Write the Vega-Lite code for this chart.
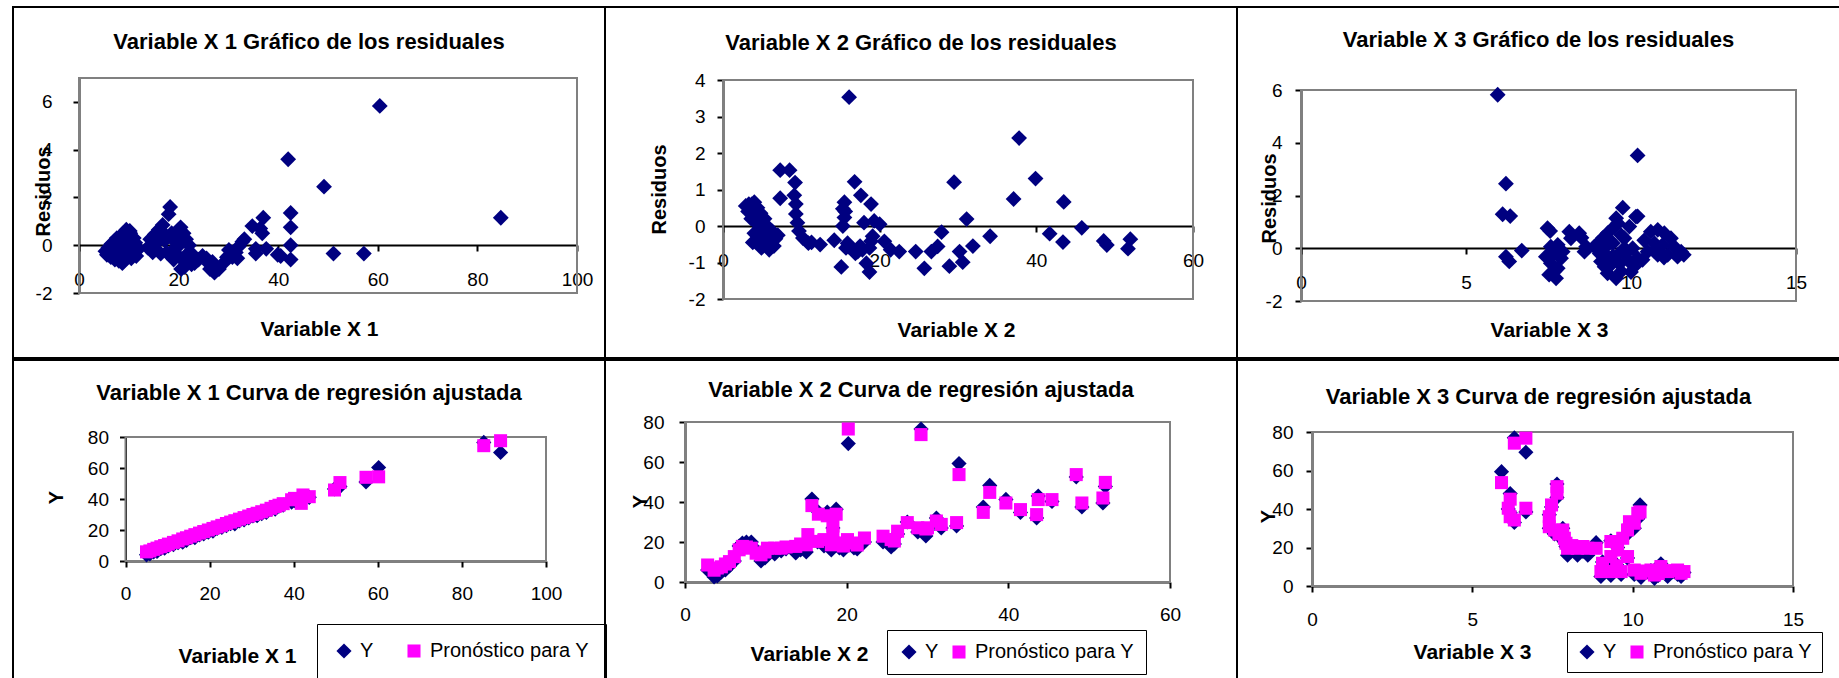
{
"$schema": "https://vega.github.io/schema/vega-lite/v6.json",
"background": "white",
"padding": {"left": 12, "top": 6, "right": 0, "bottom": 0},
"spacing": 0,
"config": {
 "view": {"stroke": "black", "strokeWidth": 2},
 "font": "Liberation Sans",
 "axis": {"grid": false, "domainColor": "black", "domainWidth": 2, "tickColor": "black", "tickWidth": 2, "tickSize": 6, "labelFont": "Liberation Sans", "labelFontSize": 19, "labelColor": "black", "titleFont": "Liberation Sans", "titleFontSize": 21, "titleFontWeight": "bold", "titleColor": "black", "labelFlush": false, "labelOverlap": false, "zindex": 1, "titleAlign": "center", "titleBaseline": "alphabetic", "labelExpr": "'' + datum.value"},
 "axisY": {"titleFontSize": 20, "titleAngle": 270},
 "title": {"font": "Liberation Sans", "fontSize": 22, "fontWeight": "bold", "color": "black", "anchor": "middle", "frame": "group"},
 "legend": {"direction": "horizontal", "orient": "none", "title": null, "strokeColor": "black", "fillColor": "white", "labelFont": "Liberation Sans", "labelFontSize": 20, "labelColor": "black", "labelOffset": 6, "symbolStrokeWidth": 0, "labelLimit": 400}
},
"resolve": {"scale": {"color": "independent", "shape": "independent", "size": "independent"}, "legend": {"color": "independent", "shape": "independent", "size": "independent"}},
"vconcat": [
{"hconcat": [
 {"width": 592, "height": 351,
  "title": {"text": "Variable X 1 Gráfico de los residuales", "offset": -47},
  "layer": [
   {"data": {"values": [{}]}, "mark": {"type": "rect", "filled": false, "stroke": "#808080", "strokeWidth": 2},
    "encoding": {"x": {"datum": 0, "type": "quantitative"}, "x2": {"datum": 100}, "y": {"datum": -2, "type": "quantitative"}, "y2": {"datum": 7}}},
   {"data": {"values": [
{"x":5.3,"r":-0.25},{"x":5.6,"r":-0.4},{"x":5.9,"r":-0.1},{"x":6.2,"r":-0.3},{"x":6.5,"r":0.05},{"x":6.8,"r":-0.2},{"x":7.1,"r":-0.45},{"x":7.4,"r":0.15},{"x":7.7,"r":-0.3},{"x":8.0,"r":-0.65},{"x":8.2,"r":0.35},{"x":8.4,"r":-0.1},{"x":8.7,"r":-0.75},{"x":8.9,"r":0.5},{"x":9.1,"r":0.1},{"x":9.3,"r":-0.45},{"x":9.5,"r":0.65},{"x":9.8,"r":0.3},{"x":10.0,"r":-0.2},{"x":10.3,"r":0.5},{"x":10.5,"r":-0.55},{"x":10.8,"r":0.05},{"x":11.1,"r":-0.3},{"x":11.5,"r":-0.45},{"x":12.0,"r":-0.15},{"x":9.0,"r":-0.65},{"x":7.6,"r":0.3},{"x":10.2,"r":0.6},{"x":11.0,"r":0.3},{"x":6.0,"r":-0.15},
{"x":6.4,"r":-0.5},{"x":7.2,"r":-0.6},{"x":8.5,"r":0.2},{"x":9.6,"r":-0.1},{"x":10.6,"r":0.2},{"x":11.3,"r":0.1},
{"x":13.8,"r":-0.1},{"x":14.3,"r":0.25},{"x":14.8,"r":-0.3},{"x":15.2,"r":0.45},{"x":15.6,"r":0.1},{"x":16.0,"r":0.65},{"x":16.4,"r":-0.35},{"x":16.8,"r":0.85},{"x":17.2,"r":0.2},{"x":17.6,"r":-0.3},{"x":18.0,"r":1.3},{"x":18.3,"r":1.6},{"x":18.6,"r":0.5},{"x":18.9,"r":-0.2},{"x":19.3,"r":0.15},{"x":19.7,"r":-0.4},{"x":20.1,"r":0.0},{"x":20.4,"r":0.75},{"x":20.7,"r":-0.6},{"x":21.0,"r":0.5},{"x":21.2,"r":-0.9},{"x":21.5,"r":0.25},{"x":21.8,"r":-0.7},{"x":22.1,"r":0.0},{"x":22.4,"r":-0.3},{"x":22.8,"r":-0.5},{"x":23.2,"r":-0.75},{"x":20.5,"r":-1.0},{"x":19.5,"r":0.4},{"x":17.0,"r":0.5},
{"x":15.0,"r":-0.1},{"x":16.2,"r":0.3},{"x":19.0,"r":-0.6},{"x":20.0,"r":0.5},{"x":21.6,"r":-0.4},{"x":22.6,"r":-0.8},
{"x":24.0,"r":-0.6},{"x":24.8,"r":-0.45},{"x":25.6,"r":-0.55},{"x":26.2,"r":-0.8},{"x":26.8,"r":-0.7},{"x":27.2,"r":-1.15},{"x":26.3,"r":-1.0},{"x":28.1,"r":-1.0},{"x":29.0,"r":-0.75},{"x":29.7,"r":-0.5},{"x":30.1,"r":-0.2},{"x":30.8,"r":-0.5},{"x":31.5,"r":-0.3},{"x":32.1,"r":-0.05},{"x":32.8,"r":0.15},{"x":33.2,"r":0.25},{"x":31.8,"r":-0.55},
{"x":34.8,"r":0.8},{"x":36.4,"r":0.7},{"x":37.0,"r":1.15},{"x":36.8,"r":0.5},{"x":35.5,"r":-0.35},{"x":35.5,"r":-0.15},{"x":37.6,"r":-0.15},{"x":39.9,"r":-0.4},{"x":40.5,"r":-0.45},
{"x":42.5,"r":1.35},{"x":42.5,"r":0.75},{"x":42.5,"r":0.0},{"x":42.5,"r":-0.6},{"x":51.1,"r":-0.35},{"x":57.2,"r":-0.35},{"x":42.0,"r":3.6},{"x":49.2,"r":2.45},{"x":60.4,"r":5.83},{"x":84.7,"r":1.15}
   ]},
    "mark": {"type": "point", "shape": "diamond", "filled": true, "size": 250, "color": "#000080", "opacity": 1, "strokeWidth": 0},
    "encoding": {
     "x": {"field": "x", "type": "quantitative", "scale": {"domain": [0, 100], "range": [66, 564], "nice": false, "zero": false},
       "axis": {"title": "Variable X 1", "values": [0,20,40,60,80,100], "offset": -113, "labelPadding": 28, "labelBaseline": "middle", "titleX": 306, "titleY": 90}},
     "y": {"field": "r", "type": "quantitative", "scale": {"domain": [-2, 7], "range": [286, 71], "nice": false, "zero": false},
       "axis": {"title": "Residuos", "values": [-2,0,2,4,6], "offset": -66, "labelPadding": 21, "titleX": -30, "titleY": 184}}
    }}
  ]},
 {"width": 632, "height": 351,
  "title": {"text": "Variable X 2 Gráfico de los residuales", "offset": -48},
  "layer": [
   {"data": {"values": [{}]}, "mark": {"type": "rect", "filled": false, "stroke": "#808080", "strokeWidth": 2},
    "encoding": {"x": {"datum": 0, "type": "quantitative"}, "x2": {"datum": 60}, "y": {"datum": -2, "type": "quantitative"}, "y2": {"datum": 4}}},
   {"data": {"values": [
{"x":2.9,"r":0.55},{"x":3.3,"r":0.6},{"x":3.7,"r":0.6},{"x":4.0,"r":0.65},{"x":4.4,"r":0.5},{"x":4.8,"r":0.35},{"x":4.2,"r":0.1},{"x":4.0,"r":-0.2},{"x":4.4,"r":-0.35},{"x":5.1,"r":-0.15},{"x":5.6,"r":0.0},{"x":6.0,"r":-0.3},{"x":5.9,"r":-0.65},{"x":6.5,"r":-0.55},{"x":7.0,"r":-0.25},{"x":5.3,"r":-0.45},{"x":3.8,"r":-0.45},{"x":4.6,"r":-0.5},{"x":5.3,"r":0.2},{"x":4.7,"r":-0.05},{"x":3.6,"r":0.2},{"x":4.1,"r":0.35},{"x":5.5,"r":-0.4},{"x":6.3,"r":-0.15},
{"x":3.2,"r":0.4},{"x":4.9,"r":-0.6},{"x":5.7,"r":-0.2},{"x":6.7,"r":-0.35},
{"x":7.3,"r":1.53},{"x":8.5,"r":1.53},{"x":9.2,"r":1.19},{"x":7.3,"r":0.76},{"x":9.1,"r":0.84},{"x":9.3,"r":0.6},{"x":9.3,"r":0.33},{"x":9.5,"r":0.09},{"x":9.7,"r":-0.14},{"x":10.2,"r":-0.33},{"x":10.9,"r":-0.47},{"x":11.3,"r":-0.45},{"x":12.4,"r":-0.51},{"x":14.2,"r":-0.39},
{"x":15.5,"r":0.65},{"x":15.3,"r":0.47},{"x":15.5,"r":0.23},{"x":15.3,"r":0.0},{"x":15.6,"r":0.4},{"x":16.8,"r":1.21},{"x":17.6,"r":0.84},{"x":18.9,"r":0.6},{"x":18.0,"r":0.09},{"x":19.3,"r":0.14},{"x":20.0,"r":0.05},{"x":19.1,"r":-0.28},{"x":20.6,"r":-0.42},{"x":15.9,"r":-0.47},{"x":16.6,"r":-0.65},{"x":17.2,"r":-0.7},{"x":17.8,"r":-0.65},{"x":18.7,"r":-0.6},{"x":18.9,"r":-0.42},{"x":15.1,"r":-1.12},{"x":18.3,"r":-1.02},{"x":18.7,"r":-1.26},{"x":16.1,"r":3.53},{"x":16.3,"r":-0.6},
{"x":15.7,"r":-0.6},{"x":17.5,"r":-0.55},{"x":16.9,"r":-0.75},
{"x":21.4,"r":-0.65},{"x":22.5,"r":-0.7},{"x":24.6,"r":-0.7},{"x":25.7,"r":-1.16},{"x":26.6,"r":-0.7},{"x":27.4,"r":-0.56},{"x":27.9,"r":-0.17},{"x":28.9,"r":-1.1},{"x":29.5,"r":1.2},{"x":30.2,"r":-0.7},{"x":30.6,"r":-0.99},{"x":31.1,"r":0.19},{"x":31.9,"r":-0.55},{"x":34.1,"r":-0.28},{"x":37.1,"r":0.74},{"x":37.8,"r":2.41},{"x":39.9,"r":1.3},{"x":41.7,"r":-0.21},{"x":43.5,"r":0.66},{"x":43.4,"r":-0.44},{"x":45.8,"r":-0.05},{"x":48.6,"r":-0.41},{"x":49.0,"r":-0.52},{"x":52.0,"r":-0.36},{"x":51.7,"r":-0.62}
   ]},
    "mark": {"type": "point", "shape": "diamond", "filled": true, "size": 250, "color": "#000080", "opacity": 1, "strokeWidth": 0},
    "encoding": {
     "x": {"field": "x", "type": "quantitative", "scale": {"domain": [0, 60], "range": [118, 588], "nice": false, "zero": false},
       "axis": {"title": "Variable X 2", "values": [0,20,40,60], "offset": -132, "labelPadding": 28, "labelBaseline": "middle", "titleX": 351, "titleY": 110}},
     "y": {"field": "r", "type": "quantitative", "scale": {"domain": [-2, 4], "range": [292, 73], "nice": false, "zero": false},
       "axis": {"title": "Residuos", "values": [-2,-1,0,1,2,3,4], "offset": -118, "labelPadding": 12, "titleX": -58, "titleY": 182}}
    }}
  ]},
 {"width": 603, "height": 351,
  "title": {"text": "Variable X 3 Gráfico de los residuales", "offset": -45},
  "layer": [
   {"data": {"values": [{}]}, "mark": {"type": "rect", "filled": false, "stroke": "#808080", "strokeWidth": 2},
    "encoding": {"x": {"datum": 0, "type": "quantitative"}, "x2": {"datum": 15}, "y": {"datum": -2, "type": "quantitative"}, "y2": {"datum": 6}}},
   {"data": {"values": [
{"x":5.96,"r":5.82},{"x":10.2,"r":3.52},{"x":6.21,"r":2.45},{"x":6.11,"r":1.29},{"x":6.34,"r":1.22},{"x":6.21,"r":-0.32},{"x":6.31,"r":-0.5},{"x":6.69,"r":-0.09},
{"x":7.47,"r":0.76},{"x":7.55,"r":0.65},{"x":7.57,"r":0.06},{"x":7.78,"r":0.13},{"x":7.42,"r":-0.32},{"x":7.57,"r":-0.57},{"x":7.68,"r":-0.88},{"x":7.88,"r":-0.38},{"x":7.78,"r":-0.76},{"x":7.93,"r":-0.13},{"x":7.52,"r":-1.0},{"x":7.73,"r":-1.14},{"x":7.65,"r":-0.2},
{"x":8.13,"r":0.63},{"x":8.18,"r":0.38},{"x":8.43,"r":0.57},{"x":8.5,"r":0.4},{"x":8.64,"r":0.06},{"x":8.59,"r":-0.13},
{"x":9.75,"r":1.54},{"x":10.15,"r":1.2},{"x":9.55,"r":1.14},{"x":9.5,"r":0.82},{"x":9.29,"r":0.57},{"x":9.14,"r":0.38},{"x":9.0,"r":0.19},{"x":8.89,"r":0.06},{"x":9.19,"r":0.0},{"x":9.29,"r":-0.32},{"x":9.09,"r":-0.5},{"x":9.39,"r":-0.63},{"x":9.29,"r":-0.95},{"x":9.55,"r":-1.14},{"x":9.7,"r":-0.88},{"x":9.6,"r":-0.25},{"x":9.8,"r":0.38},{"x":9.95,"r":0.82},{"x":10.05,"r":0.0},{"x":9.9,"r":-0.44},{"x":10.1,"r":-0.69},{"x":10.2,"r":-0.38},{"x":9.8,"r":0.0},{"x":9.45,"r":0.19},{"x":9.35,"r":0.3},{"x":9.65,"r":-0.6},{"x":9.05,"r":-0.2},{"x":10.2,"r":1.21},
{"x":9.2,"r":-0.7},{"x":9.45,"r":-0.3},{"x":9.7,"r":0.5},{"x":9.85,"r":-0.2},{"x":10.0,"r":-0.9},{"x":9.6,"r":0.95},{"x":10.4,"r":0.3},{"x":10.7,"r":-0.1},{"x":11.0,"r":-0.35},
{"x":10.6,"r":0.63},{"x":10.81,"r":0.7},{"x":11.01,"r":0.57},{"x":10.71,"r":0.19},{"x":10.5,"r":-0.13},{"x":10.35,"r":-0.44},{"x":11.21,"r":0.38},{"x":11.31,"r":0.06},{"x":11.52,"r":-0.13},{"x":11.41,"r":-0.32},{"x":11.11,"r":-0.25},{"x":10.81,"r":-0.25},{"x":10.96,"r":0.13},{"x":11.6,"r":-0.25}
   ]},
    "mark": {"type": "point", "shape": "diamond", "filled": true, "size": 250, "color": "#000080", "opacity": 1, "strokeWidth": 0},
    "encoding": {
     "x": {"field": "x", "type": "quantitative", "scale": {"domain": [0, 15], "range": [64, 559], "nice": false, "zero": false},
       "axis": {"title": "Variable X 3", "values": [0,5,10,15], "offset": -110, "labelPadding": 28, "labelBaseline": "middle", "titleX": 312, "titleY": 88}},
     "y": {"field": "r", "type": "quantitative", "scale": {"domain": [-2, 6], "range": [294, 83], "nice": false, "zero": false},
       "axis": {"title": "Residuos", "values": [-2,0,2,4,6], "offset": -64, "labelPadding": 13, "titleX": -26, "titleY": 191}}
    }}
  ]}
 ], "spacing": 0, "bounds": "flush",
 "resolve": {"scale": {"color": "independent", "shape": "independent", "size": "independent"}, "legend": {"color": "independent", "shape": "independent", "size": "independent"}}},
{"hconcat": [
 {"width": 592, "height": 320,
  "title": {"text": "Variable X 1 Curva de regresión ajustada", "offset": -45},
  "layer": [
   {"data": {"values": [{}]}, "mark": {"type": "rect", "filled": false, "stroke": "#808080", "strokeWidth": 2},
    "encoding": {"x": {"datum": 0, "type": "quantitative"}, "x2": {"datum": 100}, "y": {"datum": 0, "type": "quantitative"}, "y2": {"datum": 80}}},
   {"data": {"values": [
{"x":5.0,"Y":4.0,"P":5.9},{"x":5.8,"Y":4.5,"P":6.5},{"x":6.7,"Y":5.8,"P":7.5},{"x":7.5,"Y":6.2,"P":8.3},{"x":8.4,"Y":8.0,"P":9.2},{"x":9.3,"Y":8.2,"P":10.0},{"x":10.2,"Y":9.8,"P":10.9},{"x":11.4,"Y":10.5,"P":12.0},{"x":12.5,"Y":11.8,"P":13.0},{"x":13.6,"Y":12.1,"P":14.2},{"x":14.5,"Y":13.2,"P":15.0},{"x":15.5,"Y":15.0,"P":16.0},{"x":16.5,"Y":15.1,"P":17.0},{"x":17.6,"Y":16.9,"P":18.0},{"x":18.6,"Y":17.5,"P":19.0},{"x":19.7,"Y":18.6,"P":20.0},{"x":20.8,"Y":19.2,"P":21.0},{"x":21.8,"Y":21.1,"P":22.0},{"x":22.9,"Y":21.6,"P":23.0},{"x":24.0,"Y":22.8,"P":24.2},{"x":25.0,"Y":24.1,"P":25.1},{"x":26.0,"Y":24.0,"P":26.0},{"x":27.1,"Y":25.9,"P":27.0},{"x":28.2,"Y":26.5,"P":28.0},{"x":29.3,"Y":27.8,"P":29.0},{"x":30.3,"Y":29.1,"P":30.0},{"x":31.3,"Y":29.2,"P":30.8},{"x":32.4,"Y":30.6,"P":31.8},{"x":33.5,"Y":31.4,"P":32.8},{"x":34.6,"Y":33.3,"P":34.0},{"x":35.6,"Y":33.5,"P":35.2},{"x":36.5,"Y":35.3,"P":36.0},{"x":37.5,"Y":36.1,"P":37.0},{"x":39.5,"Y":38.0,"P":39.5},{"x":40.2,"Y":39.0,"P":40.4},{"x":41.8,"Y":39.5,"P":37.2},{"x":42.2,"Y":40.5,"P":42.6},{"x":43.7,"Y":41.1,"P":41.5},
{"x":49.7,"Y":46.5,"P":45.8},{"x":51.0,"Y":48.0,"P":50.6},{"x":57.2,"Y":51.0,"P":54.0},{"x":60.2,"Y":60.3,"P":54.3},{"x":85.2,"Y":76.5,"P":74.4},{"x":89.2,"Y":70.0,"P":77.6}
   ]},
    "transform": [{"fold": ["Y", "P"], "as": ["s", "v"]}],
    "mark": {"type": "point", "filled": true, "opacity": 1, "strokeWidth": 0},
    "encoding": {
     "x": {"field": "x", "type": "quantitative", "scale": {"domain": [0, 100], "range": [112.5, 533], "nice": false, "zero": false},
       "axis": {"title": "Variable X 1", "values": [0,20,40,60,80,100], "offset": -119, "labelPadding": 26, "labelBaseline": "middle", "titleX": 224, "titleY": 101}},
     "y": {"field": "v", "type": "quantitative", "scale": {"domain": [0, 80], "range": [201, 77], "nice": false, "zero": false},
       "axis": {"title": "Y", "values": [0,20,40,60,80], "offset": -112.5, "labelPadding": 11, "titleX": -63, "titleY": 137}},
     "color": {"field": "s", "type": "nominal", "scale": {"domain": ["Y", "P"], "range": ["#000080", "#FF00FF"]},
       "legend": {"legendX": 304, "legendY": 264, "padding": 17, "columnPadding": 30, "labelExpr": "datum.label == 'P' ? 'Pronóstico para Y' : 'Y'"}},
     "shape": {"field": "s", "type": "nominal", "scale": {"domain": ["Y", "P"], "range": ["diamond", "square"]}},
     "size": {"field": "s", "type": "nominal", "scale": {"domain": ["Y", "P"], "range": [230, 170]}},
     "order": {"field": "s", "sort": "descending"}
    }}
  ]},
 {"width": 632, "height": 320,
  "title": {"text": "Variable X 2 Curva de regresión ajustada", "offset": -42},
  "layer": [
   {"data": {"values": [{}]}, "mark": {"type": "rect", "filled": false, "stroke": "#808080", "strokeWidth": 2},
    "encoding": {"x": {"datum": 0, "type": "quantitative"}, "x2": {"datum": 60}, "y": {"datum": 0, "type": "quantitative"}, "y2": {"datum": 80}}},
   {"data": {"values": [
{"x":2.8,"Y":6.0,"P":8.5},{"x":3.6,"Y":2.5,"P":5.9},{"x":4.0,"Y":3.0,"P":7.0},{"x":4.5,"Y":5.0,"P":7.6},{"x":5.0,"Y":6.0,"P":9.0},{"x":5.5,"Y":8.0,"P":10.2},{"x":6.1,"Y":10.5,"P":12.7},{"x":6.7,"Y":18.0,"P":16.1},{"x":7.1,"Y":19.5,"P":17.8},{"x":7.6,"Y":20.0,"P":17.5},{"x":8.2,"Y":20.0,"P":16.9},{"x":8.8,"Y":16.0,"P":14.4},{"x":9.4,"Y":10.5,"P":13.6},{"x":9.9,"Y":12.0,"P":15.0},{"x":10.2,"Y":15.0,"P":16.9},{"x":11.1,"Y":14.0,"P":16.9},{"x":11.9,"Y":15.5,"P":16.9},{"x":12.5,"Y":16.5,"P":17.5},
{"x":13.7,"Y":14.5,"P":17.8},{"x":14.3,"Y":16.0,"P":19.0},{"x":15.0,"Y":15.0,"P":18.6},{"x":15.2,"Y":20.0,"P":23.7},{"x":15.7,"Y":41.5,"P":38.2},{"x":16.4,"Y":20.0,"P":20.3},{"x":16.5,"Y":35.0,"P":33.9},{"x":17.2,"Y":18.0,"P":21.2},{"x":17.6,"Y":35.0,"P":33.1},{"x":18.7,"Y":36.4,"P":33.9},{"x":18.3,"Y":27.0,"P":28.0},{"x":18.3,"Y":22.0,"P":23.7},{"x":18.1,"Y":16.0,"P":18.6},{"x":19.1,"Y":17.0,"P":19.5},{"x":19.6,"Y":16.0,"P":18.0},{"x":20.1,"Y":19.5,"P":21.2},{"x":20.2,"Y":69.2,"P":76.5},{"x":20.9,"Y":17.0,"P":19.5},{"x":21.3,"Y":16.5,"P":18.5},{"x":22.2,"Y":20.0,"P":22.0},
{"x":24.5,"Y":20.0,"P":22.9},{"x":25.5,"Y":17.5,"P":21.2},{"x":25.9,"Y":19.0,"P":20.5},{"x":26.3,"Y":24.0,"P":25.4},{"x":27.5,"Y":30.0,"P":29.7},{"x":28.8,"Y":25.0,"P":27.1},{"x":29.2,"Y":76.5,"P":73.7},{"x":29.8,"Y":23.0,"P":26.5},{"x":30.0,"Y":26.0,"P":27.1},{"x":31.1,"Y":32.0,"P":30.5},{"x":31.7,"Y":27.0,"P":28.8},{"x":33.6,"Y":28.0,"P":29.7},{"x":33.9,"Y":59.2,"P":53.7},
{"x":36.9,"Y":37.5,"P":34.8},{"x":37.7,"Y":48.3,"P":44.8},{"x":39.7,"Y":41.3,"P":39.5},{"x":41.5,"Y":34.8,"P":36.2},{"x":43.5,"Y":32.0,"P":33.7},{"x":43.7,"Y":43.0,"P":41.2},{"x":45.4,"Y":40.3,"P":41.2},{"x":48.4,"Y":52.5,"P":53.7},{"x":49.1,"Y":37.5,"P":39.5},{"x":51.7,"Y":39.5,"P":42.0},{"x":52.0,"Y":47.8,"P":49.8}
   ]},
    "transform": [{"fold": ["Y", "P"], "as": ["s", "v"]}],
    "mark": {"type": "point", "filled": true, "opacity": 1, "strokeWidth": 0},
    "encoding": {
     "x": {"field": "x", "type": "quantitative", "scale": {"domain": [0, 60], "range": [80, 565], "nice": false, "zero": false},
       "axis": {"title": "Variable X 2", "values": [0,20,40,60], "offset": -98, "labelPadding": 26, "labelBaseline": "middle", "titleX": 204, "titleY": 78}},
     "y": {"field": "v", "type": "quantitative", "scale": {"domain": [0, 80], "range": [222, 62], "nice": false, "zero": false},
       "axis": {"title": "Y", "values": [0,20,40,60,80], "offset": -80, "labelPadding": 15, "titleX": -39, "titleY": 141}},
     "color": {"field": "s", "type": "nominal", "scale": {"domain": ["Y", "P"], "range": ["#000080", "#FF00FF"]},
       "legend": {"legendX": 282, "legendY": 270, "padding": 12, "columnPadding": 10, "labelExpr": "datum.label == 'P' ? 'Pronóstico para Y' : 'Y'"}},
     "shape": {"field": "s", "type": "nominal", "scale": {"domain": ["Y", "P"], "range": ["diamond", "square"]}},
     "size": {"field": "s", "type": "nominal", "scale": {"domain": ["Y", "P"], "range": [230, 170]}},
     "order": {"field": "s", "sort": "descending"}
    }}
  ]},
 {"width": 603, "height": 320,
  "title": {"text": "Variable X 3 Curva de regresión ajustada", "offset": -49},
  "layer": [
   {"data": {"values": [{}]}, "mark": {"type": "rect", "filled": false, "stroke": "#808080", "strokeWidth": 2},
    "encoding": {"x": {"datum": 0, "type": "quantitative"}, "x2": {"datum": 15}, "y": {"datum": 0, "type": "quantitative"}, "y2": {"datum": 80}}},
   {"data": {"values": [
{"x":6.31,"Y":77.0,"P":74.2},{"x":6.67,"Y":69.5,"P":76.8},{"x":5.91,"Y":59.4,"P":53.7},{"x":6.18,"Y":48.0,"P":45.1},{"x":6.12,"Y":40.0,"P":40.4},{"x":6.18,"Y":38.0,"P":36.0},{"x":6.31,"Y":33.0,"P":34.3},{"x":6.67,"Y":38.5,"P":40.4},
{"x":7.64,"Y":53.0,"P":51.6},{"x":7.64,"Y":46.0,"P":48.2},{"x":7.47,"Y":41.0,"P":42.1},{"x":7.4,"Y":37.0,"P":36.0},{"x":7.4,"Y":30.0,"P":30.8},{"x":7.56,"Y":27.0,"P":29.1},{"x":7.82,"Y":30.0,"P":29.1},{"x":7.87,"Y":23.0,"P":24.8},{"x":7.7,"Y":26.0,"P":27.0},{"x":7.97,"Y":16.0,"P":19.6},{"x":8.28,"Y":16.0,"P":19.6},{"x":8.6,"Y":16.0,"P":19.6},{"x":8.86,"Y":22.5,"P":19.6},{"x":7.92,"Y":20.5,"P":22.2},{"x":8.1,"Y":19.0,"P":21.0},{"x":8.45,"Y":18.0,"P":20.5},
{"x":9.32,"Y":23.5,"P":23.1},{"x":9.69,"Y":25.0,"P":24.8},{"x":9.32,"Y":14.0,"P":15.3},{"x":9.53,"Y":20.0,"P":18.7},{"x":9.84,"Y":14.5,"P":15.3},{"x":9.06,"Y":12.5,"P":11.8},{"x":9.01,"Y":5.0,"P":7.5},{"x":9.32,"Y":5.5,"P":7.5},{"x":9.64,"Y":6.0,"P":7.5},{"x":9.9,"Y":32.0,"P":33.4},{"x":10.16,"Y":35.0,"P":37.8},{"x":10.23,"Y":42.1,"P":38.5},{"x":10.05,"Y":30.0,"P":32.6},{"x":9.84,"Y":27.0,"P":29.1},{"x":9.5,"Y":11.0,"P":10.5},
{"x":10.05,"Y":6.0,"P":8.3},{"x":10.26,"Y":4.5,"P":6.6},{"x":10.57,"Y":8.0,"P":8.3},{"x":10.88,"Y":11.5,"P":10.1},{"x":11.09,"Y":5.0,"P":7.5},{"x":11.4,"Y":6.0,"P":8.3},{"x":11.51,"Y":5.0,"P":6.6},{"x":10.68,"Y":4.0,"P":5.7},{"x":10.4,"Y":7.0,"P":7.8},{"x":10.8,"Y":5.5,"P":6.5},{"x":11.25,"Y":7.5,"P":8.0},{"x":11.6,"Y":7.0,"P":7.5}
   ]},
    "transform": [{"fold": ["Y", "P"], "as": ["s", "v"]}],
    "mark": {"type": "point", "filled": true, "opacity": 1, "strokeWidth": 0},
    "encoding": {
     "x": {"field": "x", "type": "quantitative", "scale": {"domain": [0, 15], "range": [75, 556], "nice": false, "zero": false},
       "axis": {"title": "Variable X 3", "values": [0,5,10,15], "offset": -94, "labelPadding": 27, "labelBaseline": "middle", "titleX": 235, "titleY": 72}},
     "y": {"field": "v", "type": "quantitative", "scale": {"domain": [0, 80], "range": [226, 72], "nice": false, "zero": false},
       "axis": {"title": "Y", "values": [0,20,40,60,80], "offset": -75, "labelPadding": 13, "titleX": -38, "titleY": 156}},
     "color": {"field": "s", "type": "nominal", "scale": {"domain": ["Y", "P"], "range": ["#000080", "#FF00FF"]},
       "legend": {"legendX": 330, "legendY": 272, "padding": 10, "columnPadding": 10, "labelExpr": "datum.label == 'P' ? 'Pronóstico para Y' : 'Y'"}},
     "shape": {"field": "s", "type": "nominal", "scale": {"domain": ["Y", "P"], "range": ["diamond", "square"]}},
     "size": {"field": "s", "type": "nominal", "scale": {"domain": ["Y", "P"], "range": [230, 170]}},
     "order": {"field": "s", "sort": "descending"}
    }}
  ]}
 ], "spacing": 0, "bounds": "flush",
 "resolve": {"scale": {"color": "independent", "shape": "independent", "size": "independent"}, "legend": {"color": "independent", "shape": "independent", "size": "independent"}}}
]
}
